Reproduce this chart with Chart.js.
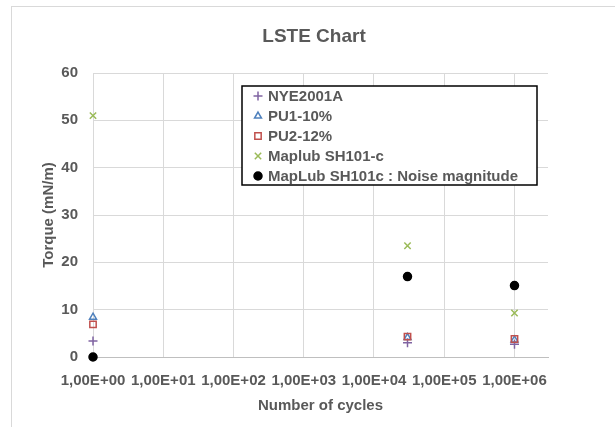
<!DOCTYPE html>
<html>
<head>
<meta charset="utf-8">
<script src="https://cdn.jsdelivr.net/npm/chart.js@4/dist/chart.umd.min.js"></script>
<style>
  html, body { margin: 0; padding: 0; background: #ffffff; }
  #wrap { position: relative; width: 615px; height: 427px; }
</style>
</head>
<body>
<div id="wrap"><canvas id="lste" width="615" height="427"></canvas></div>
<script>
// Data
const cycles = [1, 30000, 1000000];
const nye2001a = [3.4, 3.0, 2.7];
const pu1 = [8.4, 4.1, 3.6];
const pu2 = [6.9, 4.3, 3.8];
const maplub = [51.0, 23.5, 9.3];
const noise = [0, 17.0, 15.1];
const xTicks = [1, 10, 100, 1000, 10000, 100000, 1000000];
const seriesNames = ['NYE2001A', 'PU1-10%', 'PU2-12%', 'Maplub SH101-c', 'MapLub SH101c : Noise magnitude'];
const chartTitle = 'LSTE Chart';

const textColor = '#595959';
const gridColor = '#d9d9d9';
const fontFamily = '"Liberation Sans", Arial, sans-serif';

const toPoints = (vals) => cycles.map((c, i) => ({ x: c, y: vals[i] }));

// Excel-like scientific label: 1,00E+04
const sciLabel = (v) => {
  const e = Math.round(Math.log10(v));
  return '1,00E+' + (e < 10 ? '0' + e : e);
};

// Outer chart border (only top and left are visible) and the title,
// which Excel centres on the whole chart rather than the plot
const frame = {
  id: 'frame',
  beforeDraw(chart) {
    const ctx = chart.ctx;
    ctx.save();
    ctx.strokeStyle = gridColor;
    ctx.lineWidth = 1;
    ctx.strokeRect(11.5, 6.5, 700, 500);
    ctx.fillStyle = textColor;
    ctx.font = 'bold 19px ' + fontFamily;
    ctx.textAlign = 'center';
    ctx.textBaseline = 'middle';
    ctx.fillText(chartTitle, 314, 37);
    ctx.restore();
  }
};

// Boxed legend that sits inside the plot area
const boxLegend = {
  id: 'boxLegend',
  afterDraw(chart) {
    const ctx = chart.ctx;
    const x0 = 242, y0 = 86, w = 295, h = 99;
    ctx.save();
    ctx.fillStyle = '#ffffff';
    ctx.fillRect(x0, y0, w, h);
    ctx.strokeStyle = '#000000';
    ctx.lineWidth = 1.5;
    ctx.strokeRect(x0, y0, w, h);
    ctx.font = 'bold 15px ' + fontFamily;
    ctx.textBaseline = 'middle';
    chart.data.datasets.forEach((ds, i) => {
      const y = y0 + 10 + i * 20;
      ctx.fillStyle = ds.backgroundColor;
      ctx.strokeStyle = ds.borderColor;
      ctx.lineWidth = ds.borderWidth;
      Chart.helpers.drawPoint(ctx, {
        pointStyle: ds.pointStyle,
        radius: ds.pointRadius,
        borderWidth: ds.borderWidth,
        rotation: 0
      }, 258, y);
      ctx.fillStyle = textColor;
      ctx.fillText(ds.label, 268, y + 1);
    });
    ctx.restore();
  }
};

const makeSet = (label, vals, style, color, fill, radius, order) => ({
  label: label,
  data: toPoints(vals),
  pointStyle: style,
  borderColor: color,
  backgroundColor: fill,
  pointRadius: radius,
  pointHoverRadius: radius,
  borderWidth: 1.5,
  showLine: false,
  clip: false,
  order: order
});

new Chart(document.getElementById('lste'), {
  type: 'scatter',
  data: {
    datasets: [
      makeSet(seriesNames[0], nye2001a, 'cross', '#8064a2', 'rgba(0,0,0,0)', 4.5, 5),
      makeSet(seriesNames[1], pu1, 'triangle', '#4f81bd', 'rgba(0,0,0,0)', 4, 4),
      makeSet(seriesNames[2], pu2, 'rect', '#c0504d', 'rgba(0,0,0,0)', 4.5, 3),
      makeSet(seriesNames[3], maplub, 'crossRot', '#9bbb59', 'rgba(0,0,0,0)', 4.5, 2),
      makeSet(seriesNames[4], noise, 'circle', '#000000', '#000000', 4, 1)
    ]
  },
  options: {
    responsive: false,
    animation: false,
    layout: { padding: { left: 40, right: 67, top: 73, bottom: 12 } },
    plugins: {
      legend: { display: false },
      tooltip: { enabled: false },
      title: { display: false }
    },
    scales: {
      x: {
        type: 'logarithmic',
        min: 1,
        max: 3000000,
        afterBuildTicks: (scale) => { scale.ticks = xTicks.map(v => ({ value: v })); },
        afterFit: (scale) => { scale.height = 58; },
        grid: { color: gridColor, drawTicks: false },
        border: { color: '#bfbfbf' },
        ticks: {
          color: textColor,
          padding: 15,
          maxRotation: 0,
          autoSkip: false,
          font: { family: fontFamily, size: 15, weight: 'bold' },
          callback: (v) => sciLabel(v)
        },
        title: {
          display: true,
          text: 'Number of cycles',
          color: textColor,
          padding: 0,
          font: { family: fontFamily, size: 15, weight: 'bold' }
        }
      },
      y: {
        min: 0,
        max: 60,
        afterFit: (scale) => { scale.width = 53; },
        grid: { color: gridColor, drawTicks: false },
        border: { display: false },
        ticks: {
          stepSize: 10,
          color: textColor,
          padding: 15,
          font: { family: fontFamily, size: 15, weight: 'bold' }
        },
        title: {
          display: true,
          text: 'Torque (mN/m)',
          color: textColor,
          padding: 0,
          font: { family: fontFamily, size: 15, weight: 'bold' }
        }
      }
    }
  },
  plugins: [frame, boxLegend]
});
</script>
</body>
</html>
